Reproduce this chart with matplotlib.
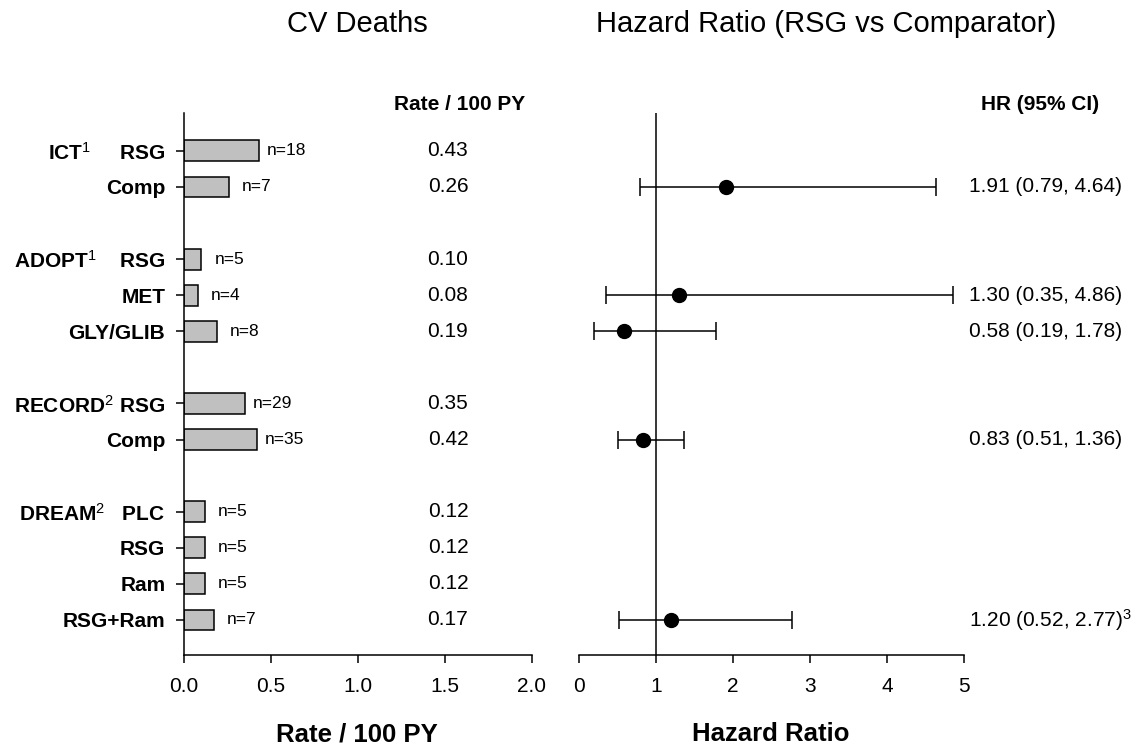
import matplotlib
matplotlib.use("Agg")
import matplotlib.pyplot as plt
import numpy as np

# ---------------- data ----------------
groups = ["ICT", "ADOPT", "RECORD", "DREAM"]
group_refs = ["1", "1", "2", "2"]
arms = [["RSG", "Comp"],
        ["RSG", "MET", "GLY/GLIB"],
        ["RSG", "Comp"],
        ["PLC", "RSG", "Ram", "RSG+Ram"]]
rates = [0.43, 0.26, 0.10, 0.08, 0.19, 0.35, 0.42, 0.12, 0.12, 0.12, 0.17]
events = [18, 7, 5, 4, 8, 29, 35, 5, 5, 5, 7]

# hazard ratios (row index in flattened arm list)
hr_rows = [1, 3, 4, 6, 10]
hr = [1.91, 1.30, 0.58, 0.83, 1.20]
hr_lo = [0.79, 0.35, 0.19, 0.51, 0.52]
hr_hi = [4.64, 4.86, 1.78, 1.36, 2.77]
hr_notes = ["", "", "", "", "3"]

rate_ticks = [0.0, 0.5, 1.0, 1.5, 2.0]
hr_ticks = [0, 1, 2, 3, 4, 5]

# ---------------- styling ----------------
FONT = "Liberation Sans"
plt.rcParams["font.family"] = [FONT, "DejaVu Sans"]
plt.rcParams["mathtext.fontset"] = "custom"
plt.rcParams["mathtext.rm"] = FONT
plt.rcParams["mathtext.bf"] = FONT + ":bold"
plt.rcParams["mathtext.it"] = FONT + ":italic"
gap_spaces = {"ICT": 5, "ADOPT": 4, "RECORD": 1, "DREAM": 3}

# row positions: one blank row between groups
ypos = []
labels = []
y = 0
for g, ref, arm_list in zip(groups, group_refs, arms):
    for j, a in enumerate(arm_list):
        ypos.append(y)
        if j == 0:
            labels.append(r"$\mathbf{%s}^{\mathrm{%s}}$" % (g, ref) + " " * gap_spaces[g] + a)
        else:
            labels.append(a)
        y += 1
    y += 1
ypos = np.array(ypos, dtype=float)
ylim = (13.97, -1.05)

fig = plt.figure(figsize=(11.36, 7.51), dpi=100)
axL = fig.add_axes([184 / 1136, 1 - 655 / 751, 348 / 1136, 542 / 751])
axR = fig.add_axes([579 / 1136, 1 - 655 / 751, 385 / 1136, 542 / 751])

lw = 1.1
tick_fs = 15
# ---- left: bars ----
axL.barh(ypos, rates, height=0.58, color="#c0c0c0", edgecolor="black", linewidth=1.1)
for yy, r, n in zip(ypos, rates, events):
    axL.annotate(f"n={n}", (r, yy), xytext=(20, 0), textcoords="offset points",
                 ha="center", va="center", fontsize=12.5)
    axL.text(1.517, yy, f"{r:.2f}", ha="center", va="center", fontsize=15)
axL.text(1.586, -1.28, "Rate / 100 PY", ha="center", va="center",
         fontsize=15, fontweight="bold", clip_on=False)
axL.set_xlim(0, 2.0)
axL.set_ylim(*ylim)
axL.set_xticks(rate_ticks)
axL.set_xticklabels([f"{t:.1f}" for t in rate_ticks], fontsize=tick_fs)
axL.set_yticks(ypos)
axL.set_yticklabels(labels, fontsize=15, fontweight="bold")
for s in ["top", "right"]:
    axL.spines[s].set_visible(False)
for s in ["left", "bottom"]:
    axL.spines[s].set_linewidth(lw)
axL.tick_params(axis="x", direction="out", length=5.5, width=lw, pad=10)
axL.tick_params(axis="y", direction="out", length=5.5, width=lw, pad=8)

# ---- right: forest ----
hr_y = ypos[hr_rows]
hr_arr = np.array(hr)
err = np.vstack([hr_arr - np.array(hr_lo), np.array(hr_hi) - hr_arr])
axR.errorbar(hr_arr, hr_y, xerr=err, fmt="o", color="black", ecolor="black",
             markersize=10, elinewidth=1.1, capsize=6.5, capthick=1.1)
axR.axvline(1, color="black", linewidth=lw)
for yy, h, lo, hi, note in zip(hr_y, hr, hr_lo, hr_hi, hr_notes):
    txt = f"{h:.2f} ({lo:.2f}, {hi:.2f})"
    if note:
        txt += r"$^{\mathrm{%s}}$" % note
    axR.text(5.065, yy, txt, ha="left", va="center", fontsize=15, clip_on=False)
axR.text(5.99, -1.28, "HR (95% CI)", ha="center", va="center",
         fontsize=15, fontweight="bold", clip_on=False)
axR.set_xlim(0, 5)
axR.set_ylim(*ylim)
axR.set_xticks(hr_ticks)
axR.set_xticklabels([str(t) for t in hr_ticks], fontsize=tick_fs)
axR.set_yticks([])
for s in ["top", "right", "left"]:
    axR.spines[s].set_visible(False)
axR.spines["bottom"].set_linewidth(lw)
axR.tick_params(axis="x", direction="out", length=5.5, width=lw, pad=10)

# ---- titles and axis labels ----
fig.text(357 / 1136, 1 - 32 / 751, "CV Deaths", ha="center", va="baseline", fontsize=21)
fig.text(826 / 1136, 1 - 32 / 751, "Hazard Ratio (RSG vs Comparator)", ha="center",
         va="baseline", fontsize=21)
fig.text(357 / 1136, 1 - 741 / 751, "Rate / 100 PY", ha="center", va="baseline",
         fontsize=18.5, fontweight="bold")
fig.text(771 / 1136, 1 - 741 / 751, "Hazard Ratio", ha="center", va="baseline",
         fontsize=18.5, fontweight="bold")

fig.savefig("out.png", dpi=100)
